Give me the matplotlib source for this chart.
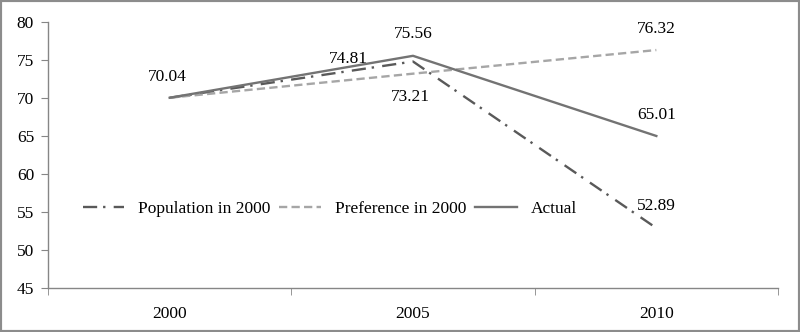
import matplotlib.pyplot as plt
from matplotlib.patches import Rectangle

# data
years = ["2000", "2005", "2010"]
population = [70.04, 74.81, 52.89]
preference = [70.04, 73.21, 76.32]
actual = [70.04, 75.56, 65.01]

# label offsets (pixels) for the value labels
pop_offsets = [None, (-65, 3), (0, 22)]
pref_offsets = [None, (-3, -23), (0, 21)]
act_offsets = [(-2, 21), (0, 22), (0, 21)]

plt.rcParams["font.family"] = ["Liberation Serif", "DejaVu Serif"]
plt.rcParams["font.size"] = 12.5

fig = plt.figure(figsize=(8, 3.32), dpi=100)
ax = fig.add_axes([0.06, 0.1325, 0.9125, 0.801])
x = list(range(len(years)))

ax.plot(x, population, color="#595959", lw=1.7, dashes=(6, 2.5, 1, 3.5),
        label="Population in 2000")
ax.plot(x, preference, color="#a6a6a6", lw=1.7, dashes=(3.5, 1.8),
        label="Preference in 2000")
ax.plot(x, actual, color="#737373", lw=1.7, label="Actual")

for series, offs in [(population, pop_offsets), (preference, pref_offsets),
                     (actual, act_offsets)]:
    for i, v in enumerate(series):
        if offs[i] is None:
            continue
        ax.annotate(f"{v:.2f}", (x[i], v), xytext=offs[i],
                    textcoords="offset pixels", ha="center", va="center")

ax.set_xlim(-0.5, 2.5)
ax.set_ylim(45, 80)
ax.set_yticks(range(45, 81, 5))
ax.set_xticks(x)
ax.set_xticklabels(years)
ax.set_xticks([-0.5, 0.5, 1.5, 2.5], minor=True)
ax.tick_params(axis="x", which="major", length=0, pad=13)
ax.tick_params(axis="x", which="minor", length=5, color="#868686")
ax.tick_params(axis="y", length=5, color="#868686", pad=5)

for s in ["top", "right"]:
    ax.spines[s].set_visible(False)
for s in ["left", "bottom"]:
    ax.spines[s].set_color("#868686")
    ax.spines[s].set_linewidth(1)

ax.legend(loc="center", bbox_to_anchor=(0.386, 0.297), ncol=3, frameon=False,
          handlelength=2.4, columnspacing=0.5, handletextpad=0.8,
          borderaxespad=0)

fig.patches.append(Rectangle((0, 0), 1, 1, transform=fig.transFigure,
                             fill=False, edgecolor="#8c8c8c", lw=3))

fig.savefig("out.png", dpi=100)
